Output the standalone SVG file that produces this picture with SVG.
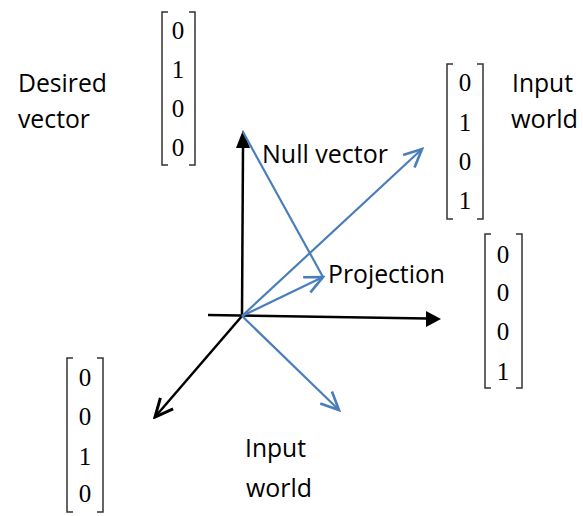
<svg xmlns="http://www.w3.org/2000/svg" width="583" height="516" viewBox="0 0 583 516">
  <style>
    .lbl { font-family: "Open Sans", "Liberation Sans", sans-serif; font-size: 25px; fill: #000; }
    .num { font-family: "Liberation Serif", serif; font-size: 25px; fill: #000; text-anchor: middle; }
    .brk { fill: none; stroke: #333; stroke-width: 1.5; }
    .axis { stroke: #000; stroke-width: 2.5; fill: none; }
    .vec { stroke: #4a7ebb; stroke-width: 2.2; fill: none; }
  </style>
  <defs>
    <marker id="openBlack" markerUnits="userSpaceOnUse" markerWidth="24" markerHeight="24" viewBox="-18 -10 20 20" refX="0" refY="0" orient="auto">
      <path d="M -15 -7 L 0 0 L -15 7" fill="none" stroke="#000" stroke-width="2.5"/>
    </marker>
    <marker id="openBlue" markerUnits="userSpaceOnUse" markerWidth="24" markerHeight="24" viewBox="-18 -10 20 20" refX="0" refY="0" orient="auto">
      <path d="M -15 -7 L 0 0 L -15 7" fill="none" stroke="#4a7ebb" stroke-width="2.2"/>
    </marker>
  </defs>

  <!-- axes and vectors -->
  <g id="connectors">
    <line class="axis" x1="242" y1="316" x2="243" y2="147"/>
    <path d="M 243 130 L 250 148 L 236 148 Z" fill="#000"/>
    <line class="axis" x1="208" y1="315" x2="427" y2="318.5"/>
    <path d="M 441 319 L 426 311 L 426 327 Z" fill="#000"/>
    <line class="axis" x1="242" y1="316" x2="155" y2="417" marker-end="url(#openBlack)"/>
    <line class="vec" x1="242" y1="316" x2="339" y2="410" marker-end="url(#openBlue)"/>
    <line class="vec" x1="242" y1="316" x2="422" y2="149" marker-end="url(#openBlue)"/>
    <line class="vec" x1="242" y1="316" x2="323" y2="277" marker-end="url(#openBlue)"/>
    <line class="vec" stroke-width="1.6" x1="243" y1="132" x2="323" y2="277"/>
  </g>

  <!-- desired vector -->
  <g id="desired">
    <text class="lbl" x="18" y="92" textLength="89" lengthAdjust="spacingAndGlyphs">Desired</text>
    <text class="lbl" x="18" y="128" textLength="72" lengthAdjust="spacingAndGlyphs">vector</text>
    <path class="brk" d="M 168 12 H 162 V 165 H 168"/>
    <path class="brk" d="M 189 12 H 195 V 165 H 189"/>
    <text class="num" x="178" y="39">0</text>
    <text class="num" x="178" y="78">1</text>
    <text class="num" x="178" y="117">0</text>
    <text class="num" x="178" y="156">0</text>
  </g>

  <!-- input world (upper right) -->
  <g id="input-upper">
    <path class="brk" d="M 453 64 H 447 V 219 H 453"/>
    <path class="brk" d="M 477 64 H 483 V 219 H 477"/>
    <text class="num" x="465" y="91">0</text>
    <text class="num" x="465" y="131">1</text>
    <text class="num" x="465" y="170">0</text>
    <text class="num" x="465" y="209">1</text>
    <text class="lbl" x="512" y="92" textLength="61" lengthAdjust="spacingAndGlyphs">Input</text>
    <text class="lbl" x="511" y="128" textLength="67" lengthAdjust="spacingAndGlyphs">world</text>
  </g>

  <g id="null-vector">
    <text class="lbl" x="262" y="163" textLength="126" lengthAdjust="spacingAndGlyphs">Null vector</text>
  </g>

  <g id="projection">
    <text class="lbl" x="328" y="283" textLength="117" lengthAdjust="spacingAndGlyphs">Projection</text>
  </g>

  <!-- basis vector on the horizontal axis -->
  <g id="basis-right">
    <path class="brk" d="M 491 234 H 485 V 388 H 491"/>
    <path class="brk" d="M 516 234 H 522 V 388 H 516"/>
    <text class="num" x="503" y="263">0</text>
    <text class="num" x="503" y="301">0</text>
    <text class="num" x="503" y="340">0</text>
    <text class="num" x="503" y="380">1</text>
  </g>

  <!-- basis vector on the depth axis -->
  <g id="basis-left">
    <path class="brk" d="M 73 358 H 67 V 512 H 73"/>
    <path class="brk" d="M 97 358 H 103 V 512 H 97"/>
    <text class="num" x="85" y="386">0</text>
    <text class="num" x="85" y="425">0</text>
    <text class="num" x="85" y="465">1</text>
    <text class="num" x="85" y="502">0</text>
  </g>

  <!-- input world (lower) -->
  <g id="input-lower">
    <text class="lbl" x="245" y="457" textLength="61" lengthAdjust="spacingAndGlyphs">Input</text>
    <text class="lbl" x="246" y="497" textLength="66" lengthAdjust="spacingAndGlyphs">world</text>
  </g>
</svg>
